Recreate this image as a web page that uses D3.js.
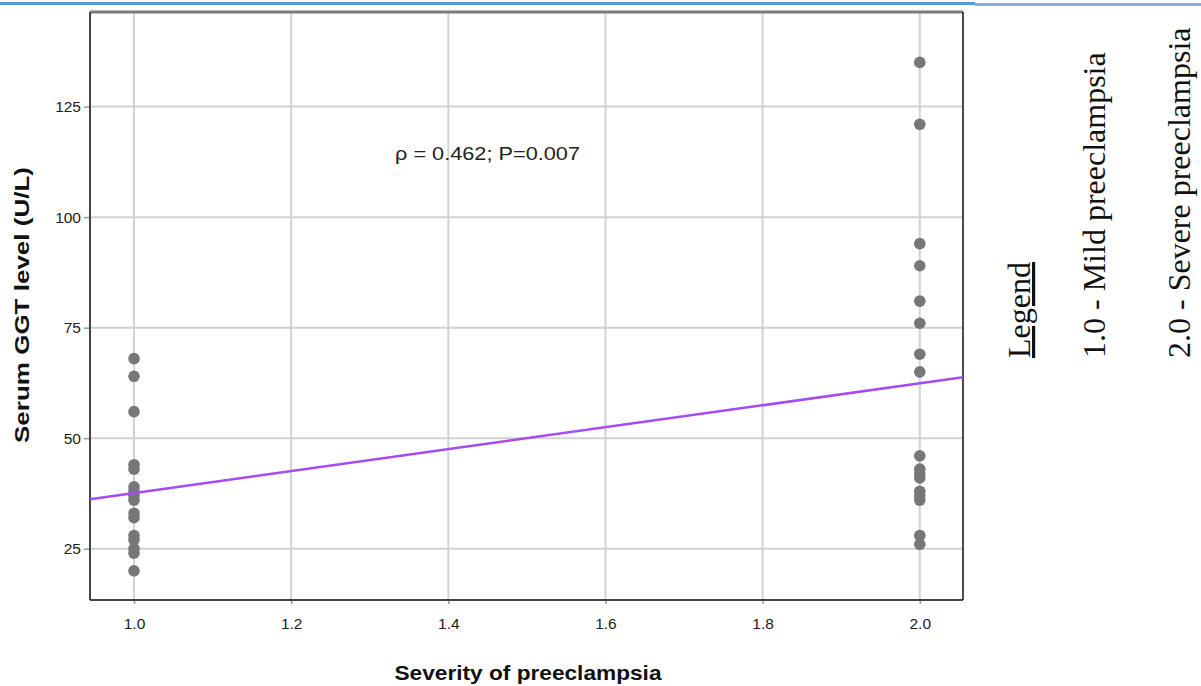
<!DOCTYPE html>
<meta charset="utf-8">
<script src="https://d3js.org/d3.v7.min.js"></script>
<style>
  body { margin: 0; background: #fff; }
  svg { display: block; }
</style>
<div id="chart"></div>
<script>
  // values (Serum GGT, U/L)
  const severityCodes = [1.0, 2.0];
  const ggtMild = [68, 64, 56, 44, 43, 39, 38, 37, 36, 33, 32, 28, 27, 25, 24, 20];
  const ggtSevere = [135, 121, 94, 89, 81, 76, 69, 65, 46, 43, 42, 41, 38, 37, 36, 28, 26];
  const xTicks = [1.0, 1.2, 1.4, 1.6, 1.8, 2.0];
  const yTicks = [25, 50, 75, 100, 125];
  // fit line as drawn: value at 1.0 and at 2.0
  const fitAt = [37.6, 62.4];
  const statText = "ρ = 0.462; P=0.007";
  const legendLines = ["Legend", "1.0 - Mild preeclampsia", "2.0 - Severe preeclampsia"];

  const width = 1201, height = 686;
  const margin = { top: 12, right: 238, bottom: 86, left: 90 };

  const svg = d3.select("#chart").append("svg")
    .attr("width", width)
    .attr("height", height);

  // blue rule on top of the page
  svg.append("rect").attr("x", 0).attr("y", 2).attr("width", 975).attr("height", 3).attr("fill", "#5b9bd5");
  svg.append("rect").attr("x", 975).attr("y", 3).attr("width", 226).attr("height", 3).attr("fill", "#7fb0de");

  const x = d3.scaleLinear().domain([0.944, 2.055]).range([margin.left, width - margin.right]);
  const y = d3.scaleLinear().domain([13.4, 146.4]).range([height - margin.bottom, margin.top]);

  const points = [];
  ggtMild.forEach(v => points.push({ x: severityCodes[0], y: v }));
  ggtSevere.forEach(v => points.push({ x: severityCodes[1], y: v }));

  const x0 = margin.left, x1 = width - margin.right;
  const y0 = margin.top, y1 = height - margin.bottom;

  // grid
  svg.append("g").selectAll("line").data(xTicks).join("line")
    .attr("x1", d => x(d)).attr("x2", d => x(d))
    .attr("y1", y0).attr("y2", y1)
    .attr("stroke", "#d2d2d2").attr("stroke-width", 2);
  svg.append("g").selectAll("line").data(yTicks).join("line")
    .attr("x1", x0).attr("x2", x1)
    .attr("y1", d => y(d)).attr("y2", d => y(d))
    .attr("stroke", "#d2d2d2").attr("stroke-width", 2);

  // axes
  const xAxis = svg.append("g")
    .attr("transform", `translate(0,${y1})`)
    .call(d3.axisBottom(x).tickValues(xTicks).tickFormat(d3.format(".1f")).tickSize(4).tickPadding(14));
  const yAxis = svg.append("g")
    .attr("transform", `translate(${x0},0)`)
    .call(d3.axisLeft(y).tickValues(yTicks).tickSize(6).tickPadding(3));
  [xAxis, yAxis].forEach(a => {
    a.select(".domain").remove();
    a.selectAll(".tick line").attr("stroke", "#999").attr("stroke-width", 1.5);
    a.selectAll("text")
      .style("font-family", "Arial, 'Liberation Sans', sans-serif")
      .style("font-size", "15.5px")
      .attr("fill", "#222");
  });

  // frame
  svg.append("line").attr("x1", x0).attr("x2", x1).attr("y1", y0).attr("y2", y0)
    .attr("stroke", "#7a7a7a").attr("stroke-width", 3);
  svg.append("line").attr("x1", x0).attr("x2", x0).attr("y1", y0).attr("y2", y1)
    .attr("stroke", "#444").attr("stroke-width", 2);
  svg.append("line").attr("x1", x0).attr("x2", x1).attr("y1", y1).attr("y2", y1)
    .attr("stroke", "#444").attr("stroke-width", 2);
  svg.append("line").attr("x1", x1).attr("x2", x1).attr("y1", y0).attr("y2", y1)
    .attr("stroke", "#111").attr("stroke-width", 1.5);

  // points
  svg.append("g").selectAll("circle").data(points).join("circle")
    .attr("cx", d => x(d.x)).attr("cy", d => y(d.y))
    .attr("r", 5.8)
    .attr("fill", "#777");

  // fit line across the plot
  const slope = (fitAt[1] - fitAt[0]) / (severityCodes[1] - severityCodes[0]);
  const fitY = v => fitAt[0] + slope * (v - severityCodes[0]);
  const dom = x.domain();
  svg.append("line")
    .attr("x1", x(dom[0])).attr("y1", y(fitY(dom[0])))
    .attr("x2", x(dom[1])).attr("y2", y(fitY(dom[1])))
    .attr("stroke", "#a64bf4").attr("stroke-width", 2.5);

  // correlation note
  svg.append("text")
    .attr("x", 395).attr("y", 160)
    .attr("textLength", 185).attr("lengthAdjust", "spacingAndGlyphs")
    .style("font-family", "Arial, 'Liberation Sans', sans-serif")
    .style("font-size", "18px")
    .attr("fill", "#222")
    .text(statText);

  // axis titles
  svg.append("text")
    .attr("x", 528).attr("y", 680)
    .attr("text-anchor", "middle")
    .attr("textLength", 267).attr("lengthAdjust", "spacingAndGlyphs")
    .style("font-family", "Arial, 'Liberation Sans', sans-serif")
    .style("font-size", "21px").style("font-weight", "bold")
    .attr("fill", "#111")
    .text("Severity of preeclampsia");
  svg.append("text")
    .attr("transform", "translate(29,305) rotate(-90)")
    .attr("text-anchor", "middle")
    .attr("textLength", 276).attr("lengthAdjust", "spacingAndGlyphs")
    .style("font-family", "Arial, 'Liberation Sans', sans-serif")
    .style("font-size", "21px").style("font-weight", "bold")
    .attr("fill", "#111")
    .text("Serum GGT level (U/L)");

  // legend written sideways on the right
  const legendX = [1030, 1105, 1190];
  svg.append("g").selectAll("text").data(legendLines).join("text")
    .attr("transform", (d, i) => `translate(${legendX[i]},358) rotate(-90)`)
    .style("font-family", "'Times New Roman', 'Liberation Serif', serif")
    .style("font-size", "32px")
    .style("text-decoration", (d, i) => i === 0 ? "underline" : "none")
    .attr("fill", "#111")
    .text(d => d);
</script>
